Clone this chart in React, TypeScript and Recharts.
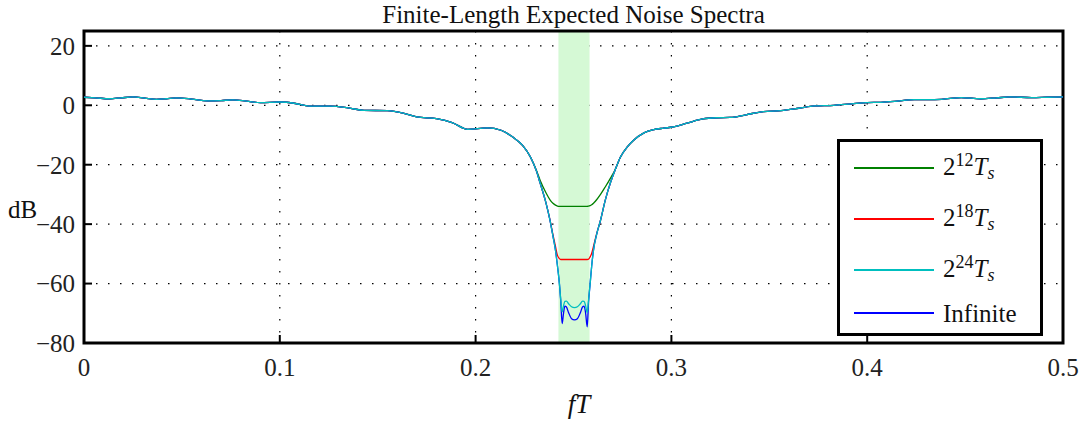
import React from 'react';
import { LineChart, Line, XAxis, YAxis, CartesianGrid, ReferenceArea, Legend } from 'recharts';

// spectrum shared by every window length, left of the notch
const leftFreq = [0, 0.006, 0.013, 0.019, 0.025, 0.031, 0.037, 0.042, 0.047, 0.055, 0.063, 0.07, 0.076, 0.083, 0.09, 0.1, 0.108, 0.115, 0.126, 0.135, 0.143, 0.155, 0.163, 0.17, 0.18, 0.188, 0.196, 0.206, 0.213];
const leftDb = [2.7, 2.5, 2.2, 2.5, 2.8, 2.4, 2.0, 2.2, 2.5, 2.1, 1.5, 1.6, 1.8, 1.4, 0.9, 1.1, 0.6, -0.3, -0.3, -0.9, -1.7, -1.8, -2.6, -3.9, -4.5, -5.8, -8.1, -7.6, -8.4];

// the notch, where the curves split
const notchFreq = [0.219, 0.224, 0.228, 0.231, 0.233, 0.236, 0.238, 0.2395, 0.2408, 0.2418, 0.2428, 0.2435, 0.2442, 0.2449, 0.2456, 0.2464, 0.2475, 0.249, 0.2505, 0.252, 0.2535, 0.2546, 0.2554, 0.2562, 0.257, 0.2577, 0.2585, 0.2593, 0.2602, 0.2618, 0.2638, 0.2662, 0.2689, 0.2714, 0.274, 0.2775, 0.2807];
const notch12 = [-10.7, -13.5, -17.4, -21.8, -25.3, -29.5, -31.8, -33, -33.6, -33.9, -34, -34, -34, -34, -34, -34, -34, -34, -34, -34, -34, -34, -34, -34, -34, -33.9, -33.8, -33.5, -33, -31.8, -30, -27.5, -24.5, -21.5, -17.4, -14, -11.8];
const notch18 = [-10.7, -13.5, -17.4, -22, -26.3, -33, -38.6, -43.5, -47.5, -50.5, -51.6, -51.9, -51.9, -51.9, -51.9, -51.9, -51.9, -51.9, -51.9, -51.9, -51.9, -51.9, -51.9, -51.9, -51.9, -51.8, -51, -49.8, -47.5, -43.3, -38.7, -32, -26, -21.5, -17.4, -14, -11.8];
const notch24 = [-10.7, -13.5, -17.4, -22, -26.3, -33, -38.7, -44, -48.8, -54, -60, -65.5, -69.5, -67.5, -66, -65.9, -66.8, -67.8, -68.1, -67.8, -66.8, -65.9, -66, -67.5, -69.8, -65.5, -60, -54, -48.8, -43.5, -38.7, -32, -26, -21.5, -17.4, -14, -11.8];
const notchInf = [-10.7, -13.5, -17.4, -22, -26.3, -33, -38.7, -44, -48.8, -54, -60, -66, -73.5, -70, -67.6, -67.9, -69.8, -71.8, -72.2, -71.8, -69.8, -67.9, -67.6, -70, -74.6, -66, -60, -54, -48.8, -43.5, -38.7, -32, -26, -21.5, -17.4, -14, -11.8];

// shared spectrum right of the notch
const rightFreq = [0.286, 0.291, 0.296, 0.301, 0.308, 0.316, 0.323, 0.33, 0.338, 0.347, 0.356, 0.365, 0.373, 0.383, 0.392, 0.4, 0.407, 0.414, 0.424, 0.431, 0.438, 0.448, 0.458, 0.466, 0.473, 0.484, 0.492, 0.5];
const rightDb = [-9.3, -8.2, -7.7, -7.3, -6.0, -4.6, -4.2, -4.1, -3.2, -2.1, -1.8, -1.0, -0.2, 0, 0.5, 0.9, 1.0, 1.3, 1.9, 1.9, 2.0, 2.6, 2.2, 2.5, 2.8, 2.6, 2.7, 2.8];

const band = [0.2423, 0.2582];
const xTicks = [0, 0.1, 0.2, 0.3, 0.4, 0.5];
const yTicks = [-80, -60, -40, -20, 0, 20];

const series = [
  { key: 'w12', exp: '12', color: '#008000', notch: notch12 },
  { key: 'w18', exp: '18', color: '#ff0000', notch: notch18 },
  { key: 'inf', exp: '', color: '#0000ff', notch: notchInf },
  { key: 'w24', exp: '24', color: '#00bfbf', notch: notch24 },
];
const legendOrder = ['w12', 'w18', 'w24', 'inf'];

const shared = (f: number, v: number) => {
  const row: any = { f };
  series.forEach((s) => (row[s.key] = v));
  return row;
};

const data = [
  ...leftFreq.map((f, i) => shared(f, leftDb[i])),
  ...notchFreq.map((f, i) => {
    const row: any = { f };
    series.forEach((s) => (row[s.key] = s.notch[i]));
    return row;
  }),
  ...rightFreq.map((f, i) => shared(f, rightDb[i])),
];

const serif = '"Liberation Serif", "Times New Roman", serif';
const TICK = 8;
const fmtY = (v: number) => (v < 0 ? `\u2212${-v}` : `${v}`);
const tickText = { fontFamily: serif, fontSize: 25, fill: '#222' };

const BottomTick = (props: any) => {
  const { x, y, payload } = props;
  const axisY = y - 15;
  return (
    <g>
      <line x1={x} x2={x} y1={axisY} y2={axisY - TICK} stroke="#000" strokeWidth={2} />
      <text x={x} y={y} dy="0.71em" textAnchor="middle" style={tickText}>
        {payload.value}
      </text>
    </g>
  );
};

const LeftTick = (props: any) => {
  const { x, y, payload } = props;
  const axisX = x + 9;
  return (
    <g>
      <line x1={axisX} x2={axisX + TICK} y1={y} y2={y} stroke="#000" strokeWidth={2} />
      <text x={x} y={y} dy="0.355em" textAnchor="end" style={tickText}>
        {fmtY(payload.value)}
      </text>
    </g>
  );
};

const TopTick = (props: any) => {
  const { x, y } = props;
  return <line x1={x} x2={x} y1={y} y2={y + TICK} stroke="#000" strokeWidth={2} />;
};

const RightTick = (props: any) => {
  const { x, y } = props;
  return <line x1={x} x2={x - TICK} y1={y} y2={y} stroke="#000" strokeWidth={2} />;
};

const rowCenter: Record<string, number> = { w12: 26, w18: 77, w24: 128, inf: 171 };

const LegendBox = (props: any) => {
  const items = [...(props.payload || [])].sort(
    (a: any, b: any) => legendOrder.indexOf(a.dataKey) - legendOrder.indexOf(b.dataKey)
  );
  return (
    <div
      style={{
        position: 'relative',
        width: 206,
        height: 197,
        boxSizing: 'border-box',
        border: '3px solid #000',
        background: '#fff',
        fontFamily: serif,
        fontSize: 25,
        color: '#111',
      }}
    >
      {items.map((it: any) => {
        const s = series.find((q) => q.key === it.dataKey)!;
        return (
          <div
            key={s.key}
            style={{
              position: 'absolute',
              left: 14,
              top: rowCenter[s.key] - 15,
              height: 30,
              display: 'flex',
              alignItems: 'center',
              whiteSpace: 'nowrap',
            }}
          >
            <div style={{ width: 80, height: 1.3, background: s.color, marginRight: 9 }} />
            <span style={{ lineHeight: '25px' }}>
              {s.exp ? (
                <>
                  2<span style={{ fontSize: 18, position: 'relative', top: -9 }}>{s.exp}</span>
                  <i>T</i>
                  <i style={{ fontSize: 18, position: 'relative', top: 4 }}>s</i>
                </>
              ) : (
                'Infinite'
              )}
            </span>
          </div>
        );
      })}
    </div>
  );
};

export default function App() {
  return (
    <div style={{ position: 'absolute', left: 0, top: 0, width: 1087, height: 423, background: '#fff' }}>
      <div
        style={{
          position: 'absolute',
          left: 84,
          width: 979,
          top: 2,
          textAlign: 'center',
          fontFamily: serif,
          fontSize: 25,
          lineHeight: '25px',
          color: '#111',
          whiteSpace: 'nowrap',
        }}
      >
        Finite-Length Expected Noise Spectra
      </div>
      <LineChart width={1087} height={423} data={data} margin={{ top: 31, right: 24, bottom: 0, left: 0 }}>
        <CartesianGrid stroke="#000" strokeWidth={1.2} strokeDasharray="1.5 10.5" />
        <XAxis
          dataKey="f"
          type="number"
          domain={[0, 0.5]}
          ticks={xTicks}
          interval={0}
          height={80}
          tickSize={0}
          tickMargin={15}
          tickLine={false}
          axisLine={false}
          tick={BottomTick}
        />
        <XAxis
          xAxisId="top"
          orientation="top"
          type="number"
          domain={[0, 0.5]}
          ticks={xTicks}
          interval={0}
          height={0}
          tickSize={0}
          tickMargin={0}
          tickLine={false}
          axisLine={false}
          tick={TopTick}
          allowDataOverflow
        />
        <YAxis
          type="number"
          domain={[-80, 25]}
          ticks={yTicks}
          interval={0}
          width={84}
          tickSize={0}
          tickMargin={9}
          tickLine={false}
          axisLine={false}
          tick={LeftTick}
          allowDataOverflow
        />
        <YAxis
          yAxisId="right"
          orientation="right"
          type="number"
          domain={[-80, 25]}
          ticks={yTicks}
          interval={0}
          width={0}
          tickSize={0}
          tickMargin={0}
          tickLine={false}
          axisLine={false}
          tick={RightTick}
          allowDataOverflow
        />
        <ReferenceArea x1={band[0]} x2={band[1]} y1={-80} y2={25} fill="#d5f9d5" fillOpacity={1} stroke="none" />
        {series.map((s) => (
          <Line
            key={s.key}
            dataKey={s.key}
            type="monotone"
            stroke={s.color}
            strokeWidth={1.3}
            dot={false}
            activeDot={false}
            isAnimationActive={false}
          />
        ))}
        <ReferenceArea x1={0} x2={0.5} y1={-80} y2={25} fill="none" stroke="#000" strokeWidth={3} />
        <Legend
          layout="vertical"
          align="center"
          verticalAlign="middle"
          content={LegendBox}
          wrapperStyle={{ left: 837, top: 139, width: 206, height: 197 }}
        />
      </LineChart>
      <div
        style={{
          position: 'absolute',
          left: 8,
          top: 197,
          fontFamily: serif,
          fontSize: 25,
          lineHeight: '25px',
          color: '#111',
        }}
      >
        dB
      </div>
      <div
        style={{
          position: 'absolute',
          left: 479,
          width: 200,
          top: 391,
          textAlign: 'center',
          fontFamily: serif,
          fontSize: 27,
          lineHeight: '27px',
          fontStyle: 'italic',
          color: '#111',
        }}
      >
        fT
      </div>
    </div>
  );
}
